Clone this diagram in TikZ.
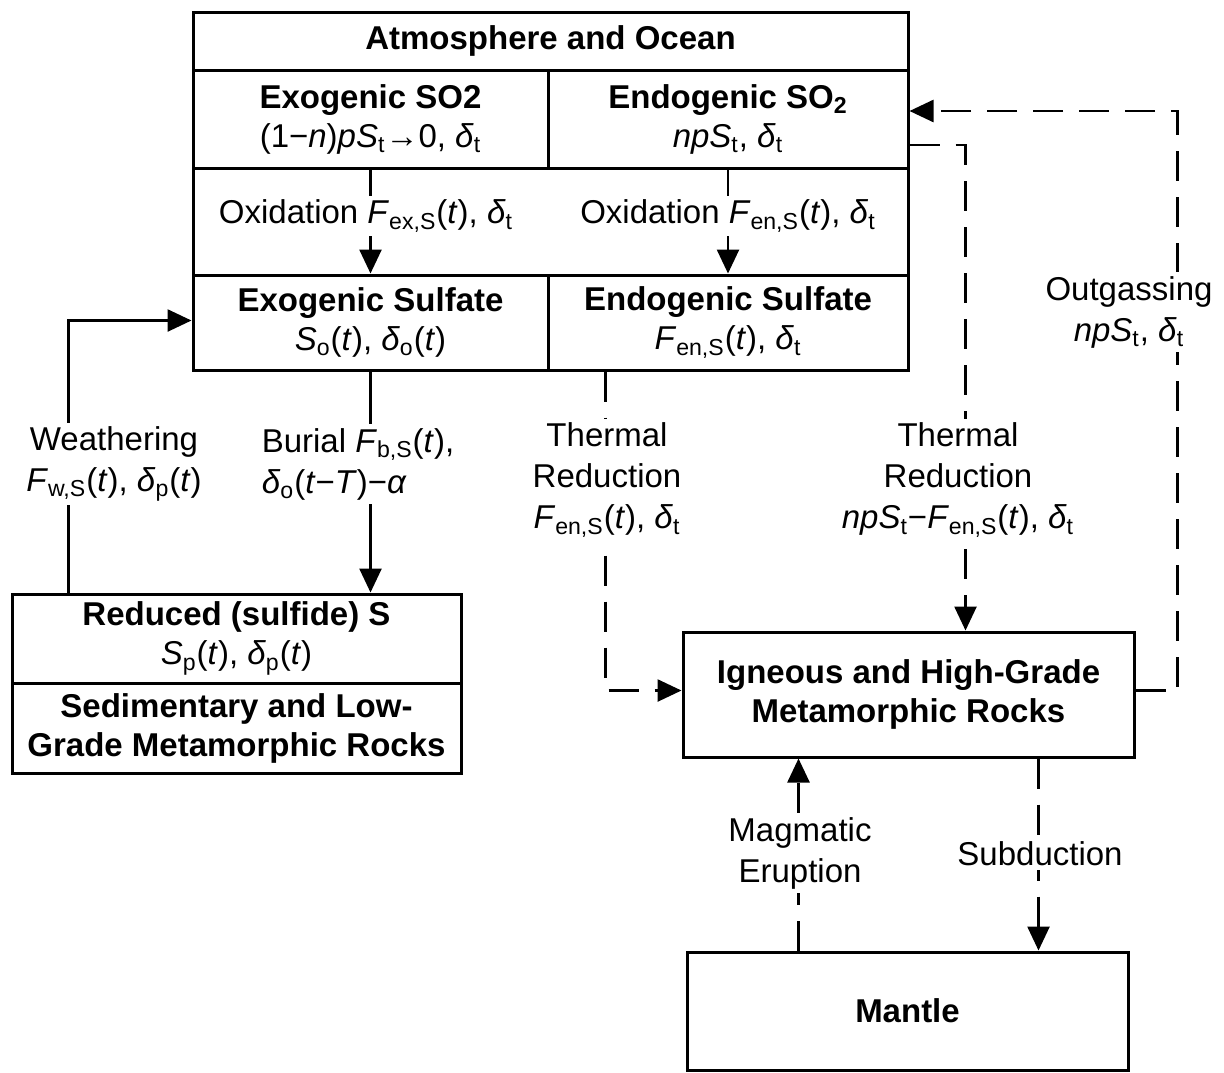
\documentclass[tikz,border=0pt]{standalone}
\usepackage{fontspec}
\setmainfont{Liberation Sans}
\usetikzlibrary{arrows.meta,calc}
\newcommand{\mysub}[1]{\textsubscript{#1}}
\newcommand{\dlt}{\textit{δ}}
\tikzset{
  box/.style={draw, line width=1.5pt, inner sep=0pt, align=center,
    font=\fontsize{16.5}{19.5}\selectfont},
  lbl/.style={fill=white, inner sep=2pt, align=center,
    font=\fontsize{16.5}{20.5}\selectfont},
  conn/.style={line width=1.3pt},
  arr/.style={conn, -{Triangle[length=12pt,width=11pt]}},
  dsh/.style={dash pattern=on 15pt off 8pt}
}
\begin{document}
\begin{tikzpicture}[x=0.5pt,y=-0.5pt]
\useasboundingbox (0,0) rectangle (1224,1072);
% top composite box
\node[box, minimum width=357.5pt, minimum height=29pt] (atm) at (550.5,41) {\bfseries Atmosphere and Ocean};
\node[box, minimum width=177.5pt, minimum height=49pt] (exso2) at (370.5,119)
  {{\bfseries Exogenic SO2}\\(1−\textit{n})\textit{pS}\mysub{t}→0, \dlt\mysub{t}};
\node[box, minimum width=180pt, minimum height=49pt] (enso2) at (728,119)
  {{\bfseries Endogenic SO\mysub{2}}\\\textit{npS}\mysub{t}, \dlt\mysub{t}};
\node[box, minimum width=357.5pt, minimum height=53.5pt] (oxrow) at (550.5,221.5) {};
\node[box, minimum width=177.5pt, minimum height=47.5pt] (exsulf) at (370.5,322.5)
  {{\bfseries Exogenic Sulfate}\\\textit{S}\mysub{o}(\textit{t}), \dlt\mysub{o}(\textit{t})};
\node[box, minimum width=180pt, minimum height=47.5pt] (ensulf) at (728,322.5)
  {{\bfseries Endogenic Sulfate}\\\textit{F}\mysub{en,S}(\textit{t}), \dlt\mysub{t}};
% reduced S box
\node[box, minimum width=224.5pt, minimum height=44.5pt] (reduced) at (236.5,638.5)
  {{\bfseries Reduced (sulfide) S}\\\textit{S}\mysub{p}(\textit{t}), \dlt\mysub{p}(\textit{t})};
\node[box, minimum width=224.5pt, minimum height=45pt] (sedim) at (236.5,728)
  {\bfseries Sedimentary and Low-\\\bfseries Grade Metamorphic Rocks};
% igneous
\node[box, minimum width=225.5pt, minimum height=62.5pt] (igneous) at (908.5,694.5)
  {\bfseries Igneous and High-Grade\\\bfseries Metamorphic Rocks};
% mantle
\node[box, minimum width=220.5pt, minimum height=59pt] (mantle) at (907.5,1011)
  {\bfseries Mantle};
% connectors
\draw[arr] (exso2.south) -- (exsulf.north);
\draw[arr] (enso2.south) -- (ensulf.north);
\draw[arr] (exsulf.south) -- (exsulf.south |- reduced.north);
\coordinate (wstart) at ($(reduced.north west)+(58,0)$);
\draw[arr] (wstart) |- ($(exsulf.west)+(0,-2)$);
\coordinate (tr1start) at ($(ensulf.south west)+(59,0)$);
\draw[arr, dsh] (tr1start) |- ($(igneous.west)+(0,-4)$);
\coordinate (tr2start) at ($(enso2.east)+(0,26)$);
\coordinate (tr2end) at ($(igneous.north west)+(284,0)$);
\draw[arr, dsh] (tr2start) -| (tr2end);
\coordinate (ogcorner) at ($(igneous.east)+(42,-4)$);
\draw[arr, dsh] ($(igneous.east)+(0,-4)$) -- (ogcorner) |- ($(enso2.east)+(0,-8)$);
\coordinate (mstart) at ($(mantle.north west)+(113,0)$);
\draw[arr, dsh] (mstart) -- (mstart |- igneous.south);
\coordinate (sstart) at ($(igneous.south west)+(357,0)$);
\draw[arr, dsh] (sstart) -- (sstart |- mantle.north);
% labels
\node[lbl] (oxex) at (366,216) {Oxidation \textit{F}\mysub{ex,S}(\textit{t}), \dlt\mysub{t}};
\node[lbl] (oxen) at (728,216) {Oxidation \textit{F}\mysub{en,S}(\textit{t}), \dlt\mysub{t}};
\node[lbl] (weath) at (114,464) {Weathering\\\textit{F}\mysub{w,S}(\textit{t}), \dlt\mysub{p}(\textit{t})};
\node[lbl, align=left] (burial) at (358,464) {Burial \textit{F}\mysub{b,S}(\textit{t}),\\\dlt\mysub{o}(\textit{t}−\textit{T})−\textit{α}};
\node[lbl] (tr1) at (607,480) {Thermal\\Reduction\\\textit{F}\mysub{en,S}(\textit{t}), \dlt\mysub{t}};
\node[lbl] (tr2) at (958,480) {Thermal\\Reduction\\\textit{npS}\mysub{t}−\textit{F}\mysub{en,S}(\textit{t}), \dlt\mysub{t}};
\node[lbl] (outg) at (1129,312) {Outgassing\\\textit{npS}\mysub{t}, \dlt\mysub{t}};
\node[lbl] (magm) at (800,853) {Magmatic\\Eruption};
\node[lbl] (subd) at (1040,854) {Subduction};
\end{tikzpicture}
\end{document}
